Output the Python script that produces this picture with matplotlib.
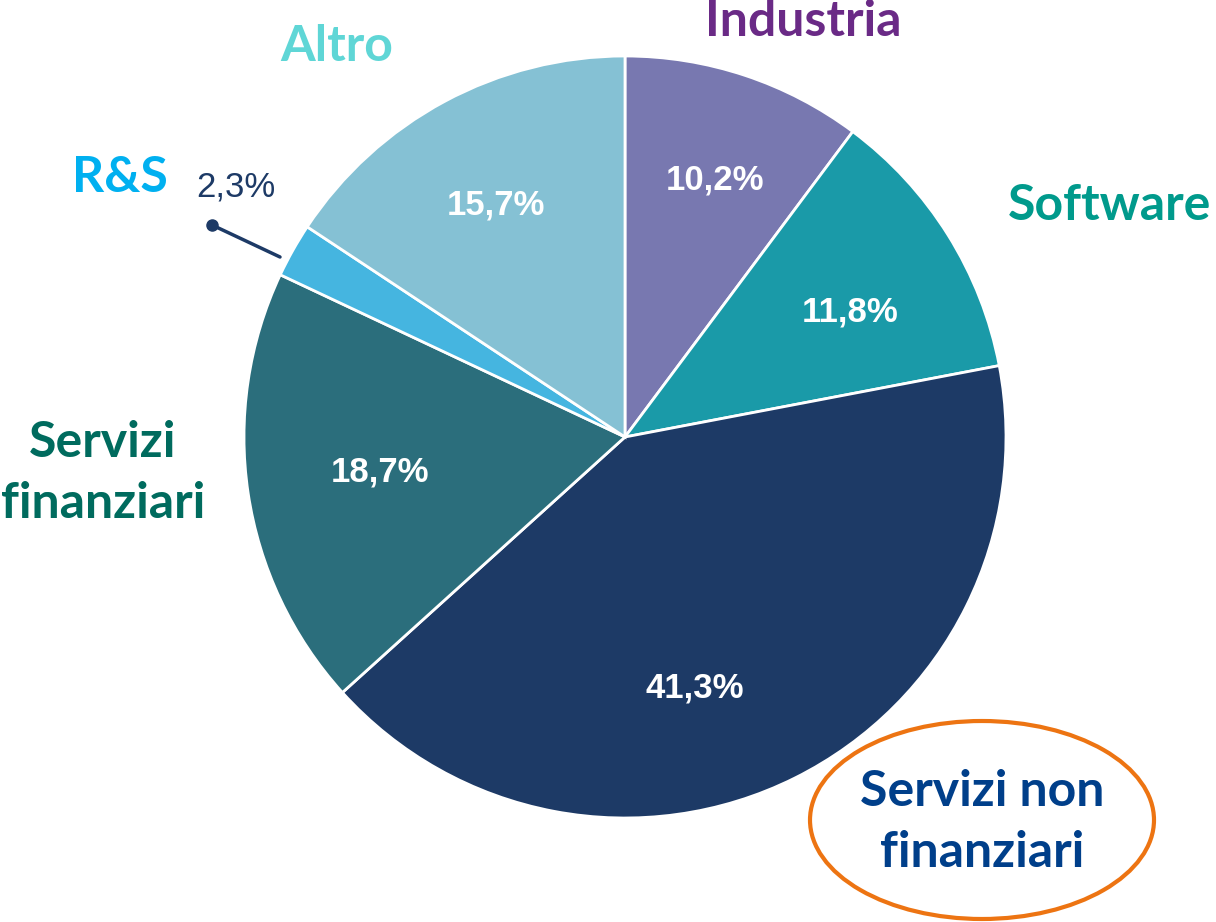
import numpy as np
import matplotlib.pyplot as plt
from matplotlib.patches import Ellipse

# data
categories = ['Industria', 'Software', 'Servizi non\nfinanziari', 'Servizi\nfinanziari', 'R&S', 'Altro']
shares = [10.2, 11.8, 41.3, 18.7, 2.3, 15.7]
pct_labels = ['10,2%', '11,8%', '41,3%', '18,7%', '2,3%', '15,7%']

wedge_colors = ['#7878b0', '#1a9aa8', '#1d3a66', '#2b6e7c', '#45b5e0', '#85c1d4']
label_colors = ['#6a2a86', '#009a8c', '#003f8a', '#006b5e', '#00b0f0', '#5fd6d6']

W, H = 1216, 922
fig = plt.figure(figsize=(W / 100, H / 100), dpi=100)
ax = fig.add_axes([0, 0, 1, 1])

cx, cy, R = 625, H - 437, 381
wedges, _ = ax.pie(shares, colors=wedge_colors, startangle=90, counterclock=False,
                   center=(cx, cy), radius=R, frame=True,
                   wedgeprops=dict(edgecolor='white', linewidth=2))
ax.set_xlim(0, W)
ax.set_ylim(0, H)
ax.set_aspect('equal')
ax.axis('off')

pct_pos = [(715, 180), (850, 312), (695, 688), (380, 472), (236, 187), (496, 205)]
for i, (txt, (x, y)) in enumerate(zip(pct_labels, pct_pos)):
    if i == 4:
        # small slice: label outside, dark, lighter weight
        ax.text(x, H - y, txt, ha='center', va='center', fontsize=25,
                family='Liberation Sans', color='#1d3a66')
    else:
        ax.text(x, H - y, txt, ha='center', va='center', fontsize=25, fontweight='bold',
                family='Liberation Sans', color='white')

# leader for small R&S slice
ax.plot([212, 280], [H - 225, H - 257], color='#1d3a66', lw=2.5, solid_capstyle='round')
ax.plot([212], [H - 225], 'o', color='#1d3a66', ms=8)

# category names
cat_pos = [(803, 22), (1110, 205), (982, 822), (103, 473), (120, 178), (337, 47)]
for name, (x, y), col in zip(categories, cat_pos, label_colors):
    ax.text(x, H - y, name, ha='center', va='center', fontsize=36, fontweight='bold',
            family='Lato', color=col, linespacing=1.45)

ax.add_patch(Ellipse((982, H - 820), 344, 198, fill=False, edgecolor='#ed7412', lw=3))

fig.savefig('out.png', dpi=100)
